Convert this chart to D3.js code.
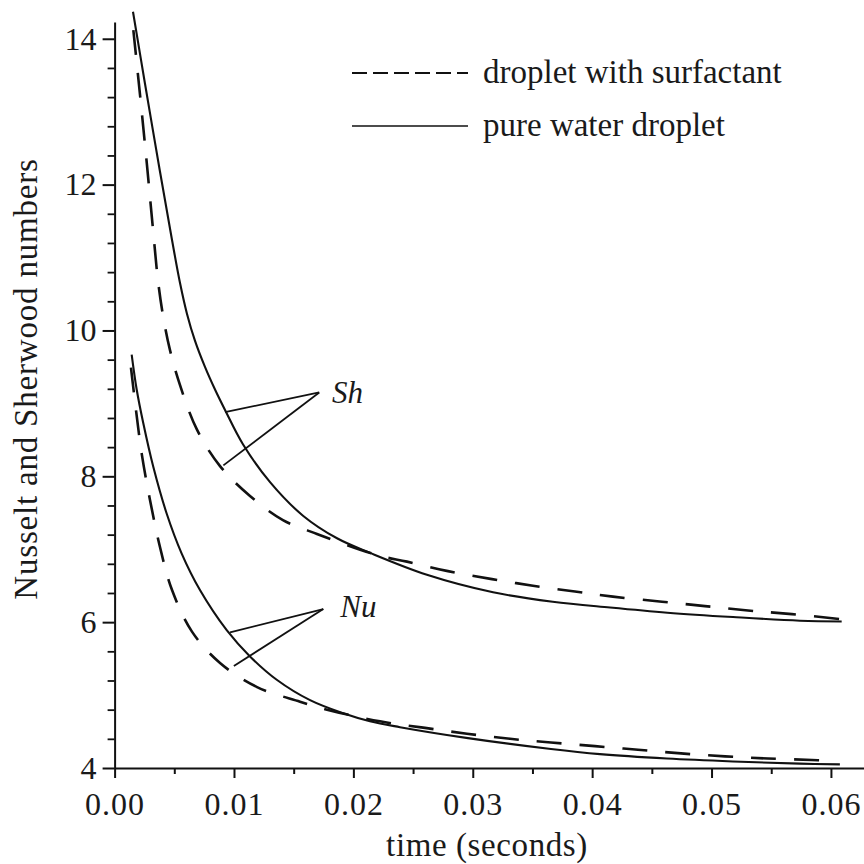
<!DOCTYPE html>
<html>
<head>
<meta charset="utf-8">
<script src="https://cdn.jsdelivr.net/npm/d3@7"></script>
<style>
  html, body { margin: 0; padding: 0; background: #fff; }
  svg { display: block; }
  text { font-family: "Liberation Serif", "Times New Roman", serif; fill: #1a1a1a; }
</style>
</head>
<body>
<svg id="chart" width="864" height="864"></svg>
<script>
// Time (s) and dimensionless numbers for each curve
const shPureT = [0.00154, 0.00255, 0.0038, 0.00481, 0.00548, 0.00606, 0.00673, 0.00757, 0.00841, 0.00925, 0.01075, 0.01302, 0.01578, 0.01863, 0.0214, 0.02616, 0.0317, 0.0367, 0.0415, 0.0463, 0.0518, 0.0574, 0.0609];
const shPureV = [14.37, 13.38, 12.18, 11.24, 10.65, 10.23, 9.86, 9.50, 9.19, 8.91, 8.44, 7.92, 7.46, 7.15, 6.95, 6.65, 6.41, 6.28, 6.20, 6.13, 6.07, 6.02, 6.01];

const shSurfT = [0.00157, 0.00213, 0.00271, 0.00322, 0.00363, 0.00405, 0.00464, 0.00548, 0.0069, 0.00883, 0.01134, 0.0141, 0.01695, 0.02198, 0.02449, 0.02792, 0.03161, 0.03504, 0.03856, 0.04174, 0.04585, 0.04945, 0.05305, 0.05673, 0.06092];
const shSurfV = [14.12, 13.23, 12.27, 11.38, 10.69, 10.21, 9.73, 9.25, 8.64, 8.14, 7.73, 7.40, 7.21, 6.92, 6.83, 6.70, 6.59, 6.50, 6.42, 6.35, 6.28, 6.22, 6.16, 6.11, 6.04];

const nuPureT = [0.00143, 0.00185, 0.0024, 0.00324, 0.00436, 0.00562, 0.00715, 0.00939, 0.01134, 0.01358, 0.01637, 0.01915, 0.02139, 0.0239, 0.0296, 0.03655, 0.04065, 0.04626, 0.05179, 0.0574, 0.06075];
const nuPureV = [9.67, 9.19, 8.73, 8.13, 7.49, 6.94, 6.44, 5.89, 5.53, 5.21, 4.93, 4.75, 4.64, 4.56, 4.41, 4.26, 4.19, 4.13, 4.09, 4.06, 4.05];

const nuSurfT = [0.00137, 0.00179, 0.00229, 0.00296, 0.0038, 0.00481, 0.00648, 0.00883, 0.01193, 0.01553, 0.01779, 0.02223, 0.026, 0.02951, 0.03312, 0.03655, 0.04024, 0.04384, 0.04744, 0.05113, 0.05473, 0.05841, 0.05992];
const nuSurfV = [9.49, 8.91, 8.29, 7.68, 7.03, 6.44, 5.87, 5.44, 5.11, 4.91, 4.80, 4.64, 4.55, 4.47, 4.40, 4.35, 4.30, 4.25, 4.20, 4.16, 4.13, 4.11, 4.10];

const xTicks      = [0, 0.01, 0.02, 0.03, 0.04, 0.05, 0.06];
const xMinorTicks = [0.005, 0.015, 0.025, 0.035, 0.045, 0.055];
const yTicks      = [4, 6, 8, 10, 12, 14];
const yMinorTicks = [4.4, 4.8, 5.2, 5.6, 6.4, 6.8, 7.2, 7.6, 8.4, 8.8, 9.2, 9.6,
                     10.4, 10.8, 11.2, 11.6, 12.4, 12.8, 13.2, 13.6];

const legendLabels = ["droplet with surfactant", "pure water droplet"];

// Leader lines: label anchor, hub where the two strokes meet, and the curve points they touch
const shLabel = { t: 0.0182, v: 9.01, text: "Sh", hub: [0.01714, 9.15], ends: [[0.00925, 8.88], [0.00911, 8.15]] };
const nuLabel = { t: 0.0189, v: 6.07, text: "Nu", hub: [0.01748, 6.18], ends: [[0.00967, 5.86], [0.00999, 5.40]] };

const svg = d3.select("#chart");

const x = d3.scaleLinear().domain([0, 0.06277]).range([114.6, 864]);
const y = d3.scaleLinear().domain([4, 14.23]).range([768, 22]);

// ---- axes ----
const xAxis = svg.append("g").attr("transform", `translate(0,${y(4)})`)
  .call(d3.axisBottom(x).tickValues(xTicks).tickSize(10).tickSizeOuter(0)
        .tickFormat(d3.format(".2f")).tickPadding(14));
xAxis.select(".domain").attr("stroke", "#111").attr("stroke-width", 2);
xAxis.selectAll(".tick line").attr("stroke", "#111").attr("stroke-width", 2);
xAxis.selectAll(".tick text").attr("font-size", 32).attr("letter-spacing", 1);

const xMinor = svg.append("g").attr("transform", `translate(0,${y(4)})`)
  .call(d3.axisBottom(x).tickValues(xMinorTicks).tickSize(6).tickFormat(""));
xMinor.select(".domain").remove();
xMinor.selectAll(".tick line").attr("stroke", "#111").attr("stroke-width", 2);

const yAxis = svg.append("g").attr("transform", `translate(${x(0)},0)`)
  .call(d3.axisLeft(y).tickValues(yTicks).tickSize(12).tickSizeOuter(0)
        .tickFormat(d3.format("d")).tickPadding(6));
yAxis.select(".domain").attr("stroke", "#111").attr("stroke-width", 2);
yAxis.selectAll(".tick line").attr("stroke", "#111").attr("stroke-width", 2);
yAxis.selectAll(".tick text").attr("font-size", 32);

const yMinor = svg.append("g").attr("transform", `translate(${x(0)},0)`)
  .call(d3.axisLeft(y).tickValues(yMinorTicks).tickSize(7).tickFormat(""));
yMinor.select(".domain").remove();
yMinor.selectAll(".tick line").attr("stroke", "#111").attr("stroke-width", 1.8);

// axis titles
svg.append("text")
  .attr("x", 487).attr("y", 856)
  .attr("text-anchor", "middle")
  .attr("font-size", 33).attr("letter-spacing", 0.6)
  .text("time (seconds)");

svg.append("text")
  .attr("transform", "translate(37,379) rotate(-90)")
  .attr("text-anchor", "middle")
  .attr("font-size", 33).attr("letter-spacing", 0.8)
  .text("Nusselt and Sherwood numbers");

// ---- curves ----
const line = d3.line().x(d => x(d[0])).y(d => y(d[1])).curve(d3.curveCatmullRom.alpha(0.5));
const zip = (ts, vs) => ts.map((t, i) => [t, vs[i]]);

const series = [
  { pts: zip(shPureT, shPureV), dashed: false },
  { pts: zip(nuPureT, nuPureV), dashed: false },
  { pts: zip(shSurfT, shSurfV), dashed: true },
  { pts: zip(nuSurfT, nuSurfV), dashed: true }
];

svg.append("g").selectAll("path").data(series).join("path")
  .attr("d", d => line(d.pts))
  .attr("fill", "none")
  .attr("stroke", "#111")
  .attr("stroke-width", d => d.dashed ? 2.6 : 2.1)
  .attr("stroke-dasharray", d => d.dashed ? "25,18" : null);

// ---- curve labels with leader lines ----
[shLabel, nuLabel].forEach(lb => {
  lb.ends.forEach(e => {
    svg.append("line")
      .attr("x1", x(lb.hub[0])).attr("y1", y(lb.hub[1]))
      .attr("x2", x(e[0])).attr("y2", y(e[1]))
      .attr("stroke", "#111").attr("stroke-width", 1.8);
  });
  svg.append("text")
    .attr("x", x(lb.t)).attr("y", y(lb.v))
    .attr("font-size", 31).attr("font-style", "italic")
    .text(lb.text);
});

// ---- legend ----
const legend = svg.append("g");
legendLabels.forEach((lbl, i) => {
  const ly = 73 + i * 53;
  legend.append("line")
    .attr("x1", 352).attr("x2", 468).attr("y1", ly).attr("y2", ly)
    .attr("stroke", "#111").attr("stroke-width", i === 0 ? 2 : 1.6)
    .attr("stroke-dasharray", i === 0 ? "15,6" : null);
  legend.append("text")
    .attr("x", 483).attr("y", ly + 10)
    .attr("font-size", 33)
    .text(lbl);
});
</script>
</body>
</html>
